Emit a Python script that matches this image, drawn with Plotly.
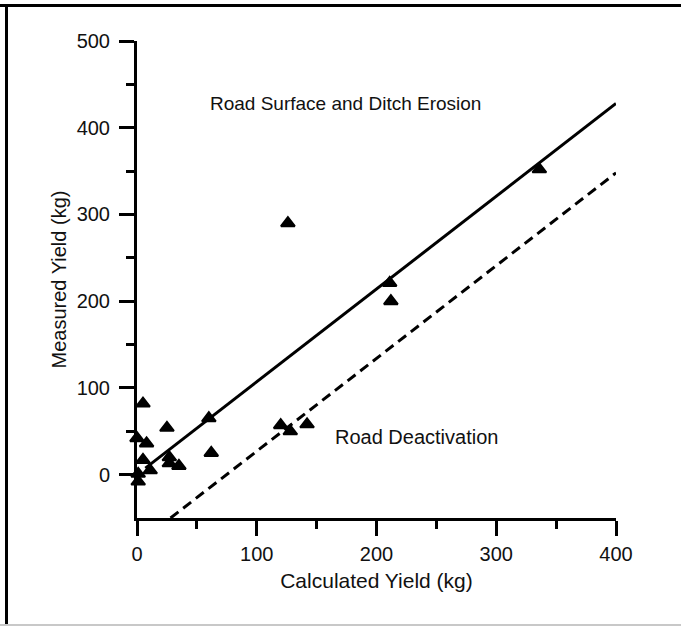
import plotly.graph_objects as go

# Calculated vs measured sediment yield (kg)
calculated = [336, 126, 211, 212, 120, 128, 142, 60, 62, 25, 5, 0, 8, 5, 27, 27, 35, 11, 1, 1]
measured = [352, 290, 221, 200, 57, 50, 58, 65, 25, 54, 82, 42, 36, 17, 20, 13, 10, 5, 1, -8]

# Reference lines: fitted relation and offset lower bound
fit_x = [7, 400]
fit_slope = 1.07
offset = 80
bound_x = [28, 400]

x_ticks = [0, 100, 200, 300, 400]
y_ticks = [0, 100, 200, 300, 400, 500]
x_minor = [50, 150, 250, 350]
y_minor = [50, 150, 250, 350, 450]

FONT = "Liberation Sans, Arial, sans-serif"
TXT = "#111111"

fig = go.Figure()

fig.add_trace(go.Scatter(
    x=fit_x, y=[fit_slope * v for v in fit_x], mode="lines",
    line=dict(color="black", width=3), hoverinfo="skip", showlegend=False,
))
fig.add_trace(go.Scatter(
    x=bound_x, y=[fit_slope * v - offset for v in bound_x], mode="lines",
    line=dict(color="black", width=3, dash="10px,6px"), hoverinfo="skip", showlegend=False,
))
fig.add_trace(go.Scatter(
    x=calculated, y=measured, mode="markers",
    marker=dict(symbol="triangle-up", size=12, color="black",
                line=dict(color="black", width=2)),
    showlegend=False, cliponaxis=False,
))

axis_common = dict(
    showline=True, linewidth=3, linecolor="black",
    ticks="outside", ticklen=15, tickwidth=3, tickcolor="black",
    showgrid=False, zeroline=False,
    tickfont=dict(family=FONT, size=20, color=TXT),
)

fig.update_xaxes(
    range=[0, 400], tickmode="array", tickvals=x_ticks,
    minor=dict(tickmode="array", tickvals=x_minor, ticks="outside",
               ticklen=8, tickwidth=3, tickcolor="black"),
    title=dict(text="Calculated Yield (kg)", font=dict(family=FONT, size=21, color=TXT),
               standoff=10),
    ticklabelstandoff=1,
    **axis_common,
)
fig.update_yaxes(
    range=[-50, 500], tickmode="array", tickvals=y_ticks,
    minor=dict(tickmode="array", tickvals=y_minor, ticks="outside",
               ticklen=8, tickwidth=3, tickcolor="black"),
    title=dict(text="Measured Yield (kg)", font=dict(family=FONT, size=20, color=TXT),
               standoff=5),
    ticklabelstandoff=5,
    **axis_common,
)

fig.add_annotation(x=174, y=428, xref="x", yref="y", text="Road Surface and Ditch Erosion",
                   showarrow=False, xanchor="center", yanchor="middle",
                   font=dict(family=FONT, size=19, color=TXT))
fig.add_annotation(x=233, y=43, xref="x", yref="y", text="Road Deactivation",
                   showarrow=False, xanchor="center", yanchor="middle",
                   font=dict(family=FONT, size=20, color=TXT))

# Frame around the figure
W, H = 681, 626
L, R, T, B = 137, 65, 41, 108
pw, ph = W - L - R, H - T - B


def px_x(p):
    return (p - L) / pw


def px_y(p):
    return (H - B - p) / ph


fig.add_shape(type="line", xref="paper", yref="paper",
              x0=px_x(0), x1=px_x(W), y0=px_y(5.5), y1=px_y(5.5),
              line=dict(color="black", width=3))
fig.add_shape(type="line", xref="paper", yref="paper",
              x0=px_x(6.5), x1=px_x(6.5), y0=px_y(4), y1=px_y(H),
              line=dict(color="black", width=3))
fig.add_shape(type="line", xref="paper", yref="paper",
              x0=px_x(0), x1=px_x(W), y0=px_y(625), y1=px_y(625),
              line=dict(color="#c8c8c8", width=2))

fig.update_layout(
    width=W, height=H, autosize=False,
    margin=dict(l=L, r=R, t=T, b=B, pad=0),
    paper_bgcolor="white", plot_bgcolor="white",
)

fig.write_html("out.html")
